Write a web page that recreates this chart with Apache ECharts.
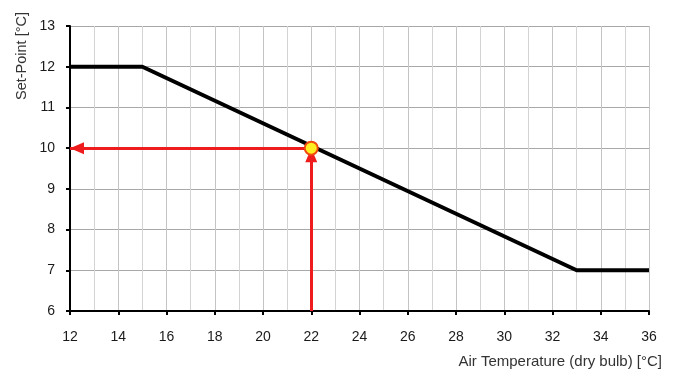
<!DOCTYPE html>
<html><head><meta charset="utf-8">
<script src="https://cdn.jsdelivr.net/npm/echarts@6/dist/echarts.min.js"></script>
<style>html,body{margin:0;padding:0;background:#fff}#c{width:676px;height:372px}</style>
</head><body><div id="c"></div>
<script>
var curveX = [12, 15, 33, 36];
var curveY = [12, 12, 7, 7];
var opX = 22, opY = 10;
var xMin = 12, xMax = 36, xStep = 2;
var yMin = 6, yMax = 13, yStep = 1;
var xName = 'Air Temperature (dry bulb) [°C]';
var yName = 'Set-Point [°C]';

var chart = echarts.init(document.getElementById('c'));
var font = 'Liberation Sans, Arial, sans-serif';
var arrowHead = 'path://M0,-14L0,-14M0,0L6,14L-6,14Z';
chart.setOption({
  animation: false,
  grid: {left: 70, right: 27, top: 26, bottom: 61},
  xAxis: {
    type: 'value', min: xMin, max: xMax, interval: xStep,
    axisLine: {lineStyle: {color: '#000', width: 2}},
    axisTick: {show: true, length: 4, lineStyle: {color: '#000', width: 2}},
    minorTick: {show: false, splitNumber: 2},
    minorSplitLine: {show: true, lineStyle: {color: '#d4d4d4', width: 1}},
    splitLine: {show: true, lineStyle: {color: '#c4c4c4', width: 1}},
    axisLabel: {color: '#1a1a1a', fontSize: 14, fontFamily: font, margin: 19}
  },
  yAxis: {
    type: 'value', min: yMin, max: yMax, interval: yStep,
    axisLine: {show: true, lineStyle: {color: '#000', width: 2}},
    axisTick: {show: true, length: 4, lineStyle: {color: '#000', width: 2}},
    splitLine: {show: true, lineStyle: {color: '#a8a8a8', width: 1}},
    axisLabel: {color: '#1a1a1a', fontSize: 14, fontFamily: font, margin: 15}
  },
  graphic: [
    {type: 'text', x: 22, y: 56, rotation: Math.PI / 2,
     style: {text: yName, fill: '#333', font: '14.5px ' + font, textAlign: 'center', textVerticalAlign: 'middle'}},
    {type: 'text', x: 662, y: 362,
     style: {text: xName, fill: '#333', font: '15px ' + font, textAlign: 'right', textVerticalAlign: 'middle'}}
  ],
  series: [
    {
      type: 'line', data: curveX.map(function (x, i) { return [x, curveY[i]]; }),
      symbol: 'none', lineStyle: {color: '#000', width: 4}, z: 3
    },
    {
      type: 'line', data: [[opX, yMin], [opX, opY]], symbol: 'none',
      lineStyle: {width: 0, opacity: 0}, z: 4,
      markLine: {
        silent: true, symbol: ['none', arrowHead], symbolSize: [12, 28],
        lineStyle: {color: '#ee1c1c', width: 3, type: 'solid'},
        itemStyle: {color: '#ee1c1c'},
        label: {show: false},
        data: [
          [{coord: [opX, yMin]}, {coord: [opX, opY]}],
          [{coord: [opX, opY]}, {coord: [xMin, opY]}]
        ]
      }
    },
    {
      type: 'scatter', data: [[opX, opY]], symbol: 'circle', symbolSize: 13, z: 10,
      itemStyle: {color: '#ffee22', borderColor: '#f04a10', borderWidth: 2, opacity: 1}
    }
  ]
});
</script></body></html>
